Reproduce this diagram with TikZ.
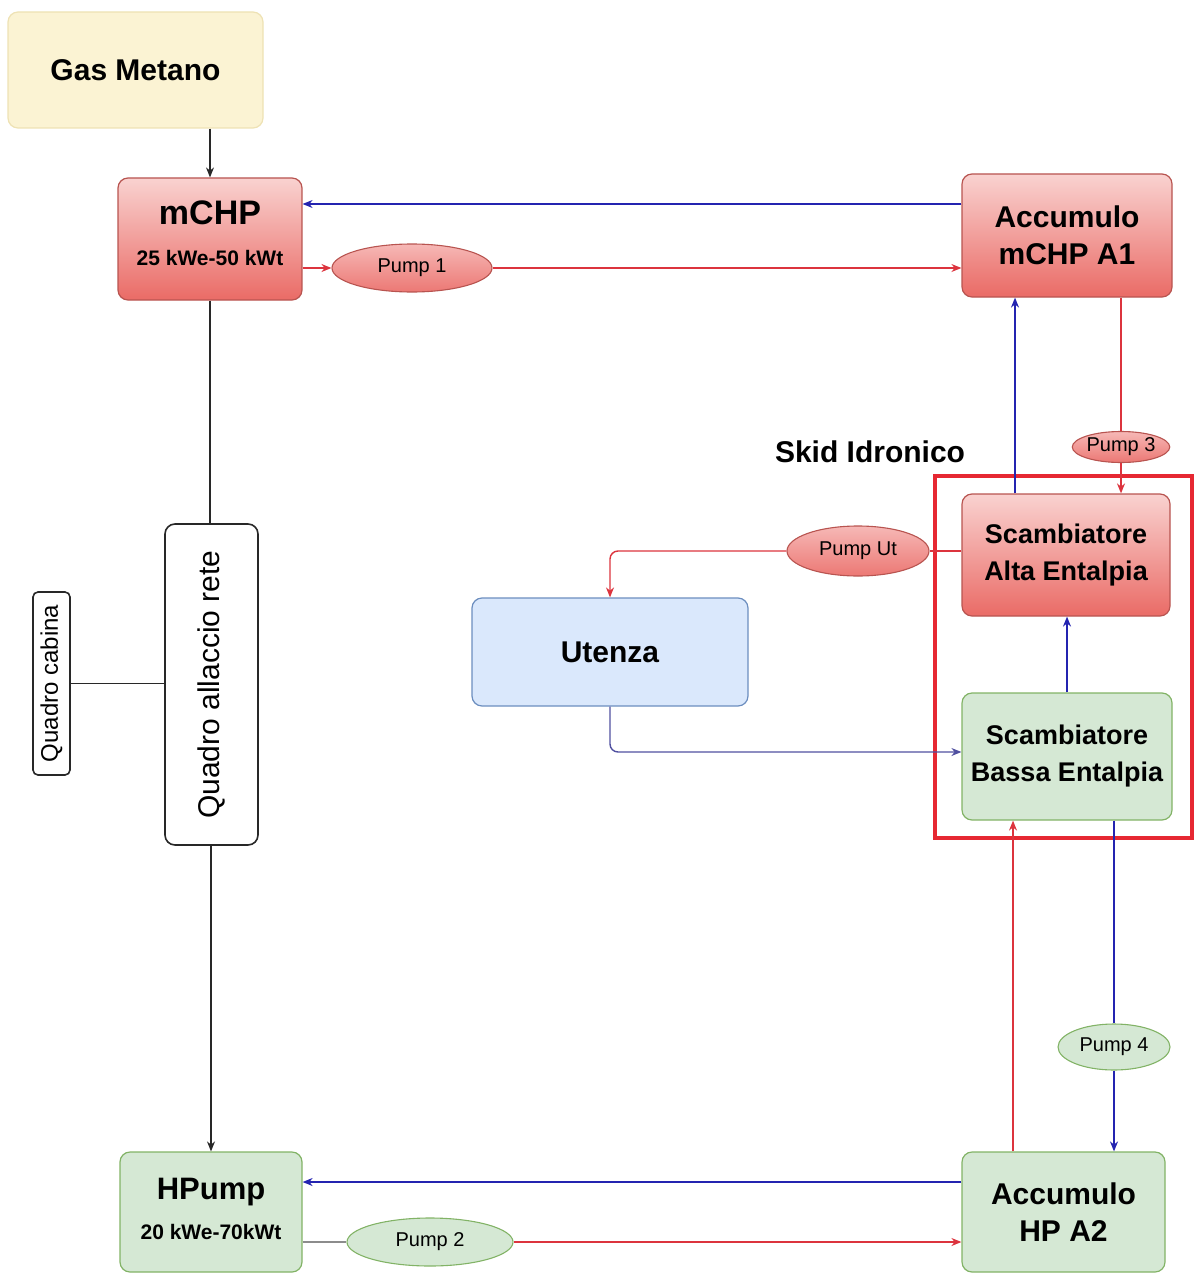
\documentclass[tikz,border=0pt]{standalone}
\usepackage{fontspec}
\setmainfont{Liberation Sans}
\usepackage{graphicx}
\usetikzlibrary{arrows.meta,shapes.geometric,calc}

\definecolor{redfillA}{RGB}{249,210,208}
\definecolor{redfillB}{RGB}{234,107,102}
\definecolor{redstroke}{RGB}{184,84,80}
\definecolor{pumpA}{RGB}{246,184,182}
\definecolor{pumpB}{RGB}{236,120,116}
\definecolor{greenfill}{RGB}{213,232,212}
\definecolor{greenstroke}{RGB}{130,179,102}
\definecolor{bluefill}{RGB}{218,232,252}
\definecolor{bluestroke}{RGB}{108,142,191}
\definecolor{yellowfill}{RGB}{251,243,211}
\definecolor{yellowstroke}{RGB}{238,226,180}
\definecolor{lnred}{RGB}{220,52,62}
\definecolor{lnblue}{RGB}{36,36,176}
\definecolor{lnmix}{RGB}{80,80,160}
\definecolor{lngray}{RGB}{140,140,140}
\definecolor{lnblack}{RGB}{40,40,40}
\definecolor{skidred}{RGB}{230,40,50}

\begin{document}
\begin{tikzpicture}[x=1pt,y=-1pt,
  >={Stealth[length=10pt,width=8pt]},
  box/.style={rounded corners=10pt, line width=1.2pt, inner sep=0pt, align=center},
  redbox/.style={box, draw=redstroke, top color=redfillA, bottom color=redfillB},
  greenbox/.style={box, draw=greenstroke, fill=greenfill},
  bluebox/.style={box, draw=bluestroke, fill=bluefill},
  yellowbox/.style={box, draw=yellowstroke, fill=yellowfill},
  whitebox/.style={box, draw=lnblack, fill=white, line width=1.6pt},
  redpump/.style={ellipse, draw=redstroke, top color=pumpA, bottom color=pumpB, line width=1.1pt, inner sep=0pt, font=\fontsize{20}{20}\selectfont},
  greenpump/.style={ellipse, draw=greenstroke, fill=greenfill, line width=1.1pt, inner sep=0pt, font=\fontsize{20}{20}\selectfont},
  bigtxt/.style={font=\fontsize{30}{37}\selectfont\bfseries},
  midtxt/.style={font=\fontsize{27}{37}\selectfont\bfseries},
  spectxt/.style={font=\fontsize{21}{21}\selectfont\bfseries},
  redln/.style={draw=lnred, line width=1.4pt},
  blueln/.style={draw=lnblue, line width=1.4pt},
  blackln/.style={draw=lnblack, line width=1.4pt},
  grayln/.style={draw=lngray, line width=1.4pt},
  mixln/.style={draw=lnmix, line width=1.4pt}
]
\useasboundingbox (0,0) rectangle (1194,1276);

% skid frame
\node[draw=skidred, line width=4pt, minimum width=257pt, minimum height=362pt, inner sep=0pt] (skid) at (1063.5,657) {};
\node[bigtxt] (skidlabel) at (870,452) {Skid Idronico};

% boxes
\node[yellowbox, bigtxt, minimum width=255pt, minimum height=116pt] (gas) at (135.5,70) {Gas Metano};

\node[redbox, minimum width=184pt, minimum height=122pt] (mchp) at (210,239) {};
\node[font=\fontsize{34}{34}\selectfont\bfseries] (mchpname) at (210,213) {mCHP};
\node[spectxt] (mchpspec) at (210,258) {25 kWe-50 kWt};

\node[redbox, bigtxt, minimum width=210pt, minimum height=123pt] (a1) at (1067,235.5) {Accumulo\\mCHP A1};
\node[redbox, midtxt, minimum width=208pt, minimum height=122pt] (alta) at (1066,555) {Scambiatore\\Alta Entalpia};
\node[greenbox, midtxt, minimum width=210pt, minimum height=127pt] (bassa) at (1067,756.5) {Scambiatore\\Bassa Entalpia};
\node[bluebox, bigtxt, minimum width=276pt, minimum height=108pt] (ut) at (610,652) {Utenza};
\node[greenbox, bigtxt, minimum width=203pt, minimum height=120pt] (a2) at (1063.5,1212) {Accumulo\\HP A2};

\node[greenbox, minimum width=182pt, minimum height=120pt] (hp) at (211,1212) {};
\node[font=\fontsize{31}{31}\selectfont\bfseries] (hpname) at (211,1192) {HPump};
\node[spectxt] (hpspec) at (211,1232) {20 kWe-70kWt};

\node[whitebox, minimum width=93pt, minimum height=321pt] (qa) at (211.5,684.5) {\rotatebox{90}{\fontsize{30}{30}\selectfont Quadro allaccio rete}};
\node[whitebox, rounded corners=5pt, minimum width=37pt, minimum height=183pt] (qc) at (51.5,683.5) {\rotatebox{90}{\fontsize{24}{24}\selectfont Quadro cabina}};

% pumps
\node[redpump, minimum width=160pt, minimum height=48pt] (p1) at (412,268) {Pump 1};
\node[redpump, minimum width=92pt, minimum height=31pt] (p3) at (1121,447) {Pump 3};
\node[redpump, minimum width=142pt, minimum height=50pt] (put) at (858,551) {Pump Ut};
\node[greenpump, minimum width=112pt, minimum height=46pt] (p4) at (1114,1047) {Pump 4};
\node[greenpump, minimum width=166pt, minimum height=48pt] (p2) at (430,1242) {Pump 2};

% helper coordinates
\coordinate (yA1blue) at (0,204);
\coordinate (xA1up) at (1015,0);
\coordinate (xA2up) at (1013,0);
\coordinate (yUtRet) at (0,752);
\coordinate (yHPblue) at (0,1182);

% connectors
\draw[blackln,->] (gas.south -| mchp.north) -- (mchp.north);
\draw[blueln,->] (a1.west |- yA1blue) -- (mchp.east |- yA1blue);
\draw[redln,->] (mchp.east |- p1.west) -- (p1.west);
\draw[redln,->] (p1.east) -- (a1.west |- p1.east);

\draw[redln] (a1.south -| p3.north) -- (p3.north);
\draw[redln,->] (p3.south) -- (alta.north -| p3.south);
\draw[blueln,->] (alta.north -| xA1up) -- (a1.south -| xA1up);

\draw[redln] (alta.west |- put.east) -- (put.east);
\draw[redln,->,rounded corners=8pt] (put.west) -| (ut.north);
\draw[mixln,->,rounded corners=8pt] (ut.south) |- (bassa.west |- yUtRet);
\draw[blueln,->] (bassa.north) -- (alta.south -| bassa.north);

\draw[redln,->] (a2.north -| xA2up) -- (bassa.south -| xA2up);
\draw[blueln] (bassa.south -| p4.north) -- (p4.north);
\draw[blueln,->] (p4.south) -- (a2.north -| p4.south);

\draw[blueln,->] (a2.west |- yHPblue) -- (hp.east |- yHPblue);
\draw[grayln] (hp.east |- p2.west) -- (p2.west);
\draw[redln,->] (p2.east) -- (a2.west |- p2.east);

\draw[blackln] (mchp.south) -- (qa.north -| mchp.south);
\draw[blackln,->] (qa.south -| hp.north) -- (hp.north);
\draw[blackln] (qc.east) -- (qa.west |- qc.east);
\end{tikzpicture}
\end{document}
